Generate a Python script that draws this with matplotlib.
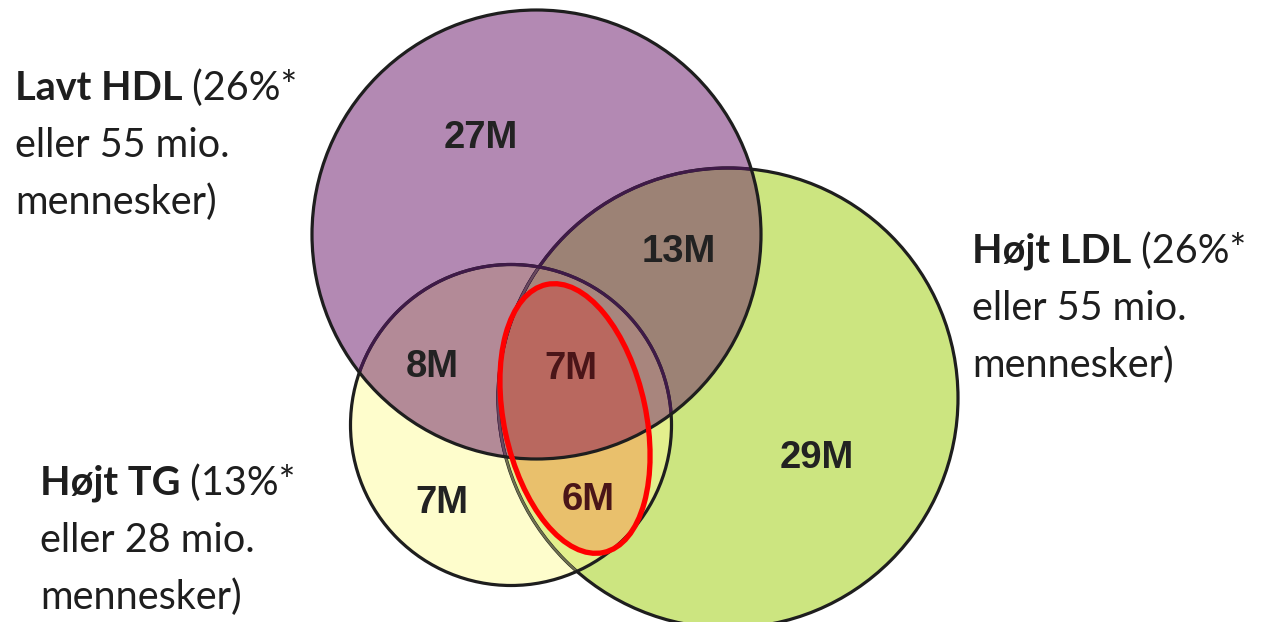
import numpy as np
import matplotlib
matplotlib.use("Agg")
import matplotlib.pyplot as plt
from matplotlib.patches import Circle, Ellipse, Polygon

# data
set_names = ["Lavt HDL", "Højt LDL", "Højt TG"]
set_pcts = ["26%", "26%", "13%"]
set_mio = [55, 55, 28]
region_names = ["HDL", "HDL+LDL", "HDL+TG", "alle tre", "TG", "LDL+TG", "LDL"]
region_vals = [27, 13, 8, 7, 7, 6, 29]

W, H = 1264, 622
fig = plt.figure(figsize=(W / 100, H / 100), dpi=100)
ax = fig.add_axes([0, 0, 1, 1])
ax.set_xlim(0, W)
ax.set_ylim(H, 0)
ax.set_aspect("equal")
ax.axis("off")

# shapes in pixel coords (y down): (cx, cy, rx, ry, angle)
P = (536.5, 234.5, 224.5, 224.5, 0)   # Lavt HDL
G = (728, 398, 230, 230, 0)           # Højt LDL
Y = (511, 425, 160.5, 160.5, 0)       # Højt TG
E = (575, 418.5, 71, 137, -12)        # red ring


def boundary(s, n=1440):
    cx, cy, rx, ry, a = s
    t = np.linspace(0, 2 * np.pi, n, endpoint=False)
    x, y = rx * np.cos(t), ry * np.sin(t)
    th = np.radians(a)
    return np.column_stack([cx + x * np.cos(th) - y * np.sin(th),
                            cy + x * np.sin(th) + y * np.cos(th)])


def inside(s, pts):
    cx, cy, rx, ry, a = s
    th = np.radians(a)
    dx, dy = pts[:, 0] - cx, pts[:, 1] - cy
    u = dx * np.cos(th) + dy * np.sin(th)
    v = -dx * np.sin(th) + dy * np.cos(th)
    return (u / rx) ** 2 + (v / ry) ** 2 <= 1.0005


def inter(*shapes):
    pts = np.vstack([boundary(s) for s in shapes])
    keep = np.ones(len(pts), bool)
    for s in shapes:
        keep &= inside(s, pts)
    pts = pts[keep]
    c = pts.mean(axis=0)
    order = np.argsort(np.arctan2(pts[:, 1] - c[1], pts[:, 0] - c[0]))
    return pts[order]


def fill(shapes, color):
    ax.add_patch(Polygon(inter(*shapes), closed=True, fc=color, ec="none"))


fill([G], "#cce580")
fill([Y], "#fefdcc")
fill([P], "#b389b3")
fill([G, Y], "#e3ef8d")
fill([P, G], "#9c8275")
fill([P, Y], "#b38a97")
fill([P, G, Y], "#a8857d")
fill([E, Y], "#e9c06c")
fill([E, P], "#b9685f")

# outlines
lw = 2.3
dark_purple = "#3f1a48"
ax.add_patch(Circle(G[:2], G[2], fc="none", ec="#1e1e1e", lw=lw))
c = Circle(G[:2], G[2], fc="none", ec="#6f7050", lw=lw * 0.7)
ax.add_patch(c)
c.set_clip_path(Circle(Y[:2], Y[2], transform=ax.transData))
c = Circle(G[:2], G[2], fc="none", ec=dark_purple, lw=lw)
ax.add_patch(c)
c.set_clip_path(Circle(P[:2], P[2], transform=ax.transData))
c = Circle(G[:2], G[2], fc="none", ec="#6a4a5e", lw=lw * 0.7)
ax.add_patch(c)
c.set_clip_path(Polygon(inter(P, Y), transform=ax.transData))

ax.add_patch(Circle(Y[:2], Y[2], fc="none", ec="#1e1e1e", lw=lw))
c = Circle(Y[:2], Y[2], fc="none", ec=dark_purple, lw=lw)
ax.add_patch(c)
c.set_clip_path(Circle(P[:2], P[2], transform=ax.transData))

ax.add_patch(Circle(P[:2], P[2], fc="none", ec="#1e1e1e", lw=lw))

ax.add_patch(Ellipse(E[:2], 2 * E[2], 2 * E[3], angle=E[4], fc="none",
                     ec="#ff0000", lw=3.8))

# region labels
region_xy = [(481, 138), (679, 252), (432, 367), (571, 369),
             (442, 503), (588, 500), (817, 458)]
region_col = ["#222222", "#222222", "#222222", "#4a1518",
              "#222222", "#4a1518", "#222222"]
for (x, y), v, col in zip(region_xy, region_vals, region_col):
    ax.text(x, y, f"{v}M", ha="center", va="center", fontsize=27.5,
            fontweight="bold", family="Liberation Sans", color=col)

# set labels
label_xy = [(15, 100), (972, 263), (40, 495)]
fs = 28.5
line_h = 57
txt_col = "#1e1e1e"
fig.canvas.draw()
r = fig.canvas.get_renderer()
for (x, y), name, pct, mio in zip(label_xy, set_names, set_pcts, set_mio):
    b = ax.text(x, y, name, fontsize=fs, fontweight="bold", family="Lato",
                color=txt_col, va="baseline", ha="left")
    bb = b.get_window_extent(renderer=r)
    wdata = bb.width * W / fig.bbox.width
    ax.text(x + wdata, y, f" ({pct}*", fontsize=fs, family="Lato",
            color=txt_col, va="baseline", ha="left")
    ax.text(x, y + line_h, f"eller {mio} mio.", fontsize=fs, family="Lato",
            color=txt_col, va="baseline", ha="left")
    ax.text(x, y + 2 * line_h, "mennesker)", fontsize=fs, family="Lato",
            color=txt_col, va="baseline", ha="left")

fig.savefig("out.png", dpi=100)
